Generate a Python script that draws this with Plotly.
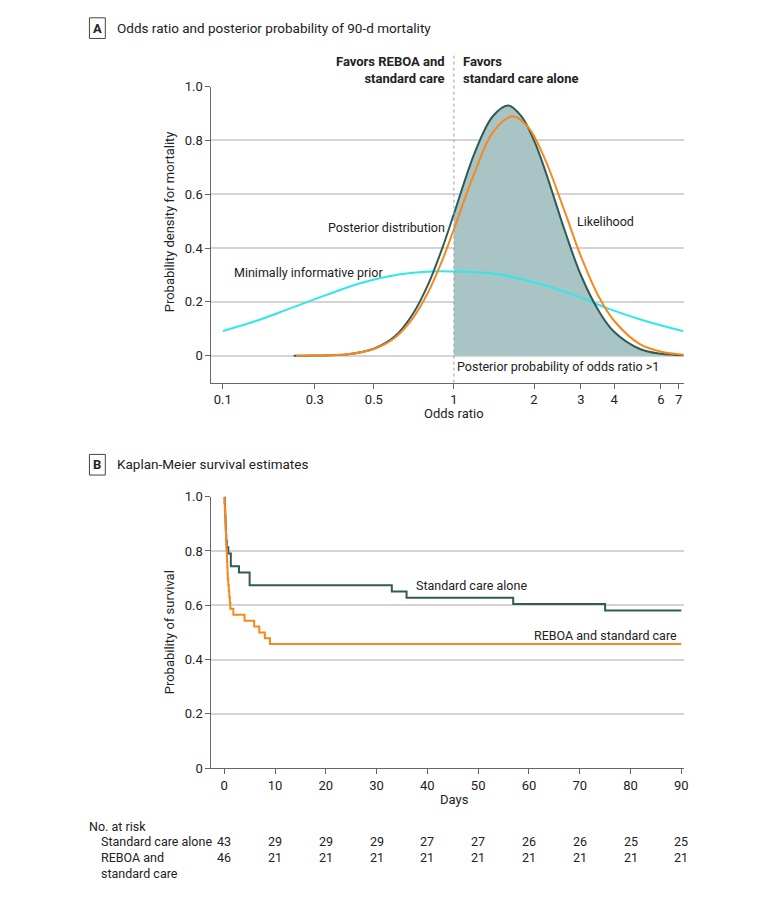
import math
import plotly.graph_objects as go

# ---- panel A: densities (odds ratio, density) ----
prior_or = [0.1353, 0.18, 0.244, 0.332, 0.451, 0.612, 0.832, 1.0, 1.318, 1.536, 2.088, 2.837, 3.85, 5.24, 7.3]
prior_dens = [0.092, 0.129, 0.177, 0.226, 0.271, 0.301, 0.313, 0.313, 0.308, 0.299, 0.268, 0.225, 0.173, 0.129, 0.091]

post_or = [0.25, 0.3, 0.4, 0.5, 0.6, 0.7, 0.8, 0.9, 1.0, 1.2, 1.4, 1.6, 1.8, 2.0, 2.2, 2.6, 3.0, 3.5, 4.0, 5.0, 6.0, 7.3]
post_dens = [0.0, 0.0005, 0.0055, 0.026, 0.072, 0.154, 0.265, 0.394, 0.527, 0.757, 0.89, 0.93, 0.888, 0.80, 0.69, 0.47, 0.30, 0.167, 0.089, 0.025, 0.007, 0.002]

lik_or = [0.255, 0.3, 0.4, 0.5, 0.6, 0.7, 0.8, 0.9, 1.0, 1.2, 1.4, 1.66, 1.9, 2.2, 2.6, 3.0, 3.5, 4.0, 5.0, 6.0, 7.3]
lik_dens = [0.0, 0.0006, 0.0057, 0.025, 0.067, 0.139, 0.236, 0.35, 0.47, 0.684, 0.83, 0.89, 0.85, 0.73, 0.54, 0.37, 0.22, 0.13, 0.043, 0.015, 0.004]

or_tick_pos = [0.1353, 0.3, 0.5, 1, 2, 3, 4, 6, 7]
or_tick_text = ["0.1", "0.3", "0.5", "1", "2", "3", "4", "6", "7"]

# ---- panel B: Kaplan-Meier steps (days, survival) ----
sc_days = [0, 0.1, 0.15, 0.2, 0.25, 0.3, 0.35, 0.4, 0.5, 0.8, 1.3, 2.9, 5.0, 33.0, 35.9, 56.9, 75.0, 90]
sc_surv = [1.0, 0.977, 0.953, 0.930, 0.907, 0.884, 0.860, 0.837, 0.814, 0.791, 0.744, 0.721, 0.674, 0.651, 0.628, 0.605, 0.581, 0.581]

reboa_days = [0, 0.05, 0.1, 0.15, 0.2, 0.25, 0.3, 0.35, 0.4, 0.45, 0.5, 0.55, 0.6, 0.65, 0.7, 0.8, 0.9, 1.0, 1.1, 1.2,
              1.8, 4.0, 5.9, 6.9, 8.0, 9.0, 90]
reboa_surv = [1.0, 0.978, 0.957, 0.935, 0.913, 0.891, 0.870, 0.848, 0.826, 0.804, 0.783, 0.761, 0.739, 0.717, 0.696,
              0.674, 0.652, 0.630, 0.609, 0.587, 0.565, 0.543, 0.522, 0.500, 0.478, 0.457, 0.457]

risk_days = [0, 10, 20, 30, 40, 50, 60, 70, 80, 90]
risk_sc = [43, 29, 29, 29, 27, 27, 26, 26, 25, 25]
risk_reboa = [46, 21, 21, 21, 21, 21, 21, 21, 21, 21]

DARK = "#2f5b59"
ORANGE = "#f7881f"
CYAN = "#2ee8ea"
FILL = "#a9c4c4"
AXIS = "#666666"
GRID = "#d4d4d4"
TXT = "#222222"
FONT = "Roboto, Arial, sans-serif"
LBL = 12.5

W, H = 780, 899


def px(x):
    return x / W


def py(y):
    return 1 - y / H


fig = go.Figure()

# posterior area for OR > 1
fill_x = [o for o in post_or if o >= 1]
fill_y = [d for o, d in zip(post_or, post_dens) if o >= 1]
fig.add_trace(go.Scatter(x=fill_x, y=fill_y, mode="lines", fill="tozeroy", fillcolor=FILL,
                         line=dict(width=0, shape="spline"), hoverinfo="skip", xaxis="x", yaxis="y"))
fig.add_trace(go.Scatter(x=prior_or, y=prior_dens, mode="lines", name="Prior",
                         line=dict(color=CYAN, width=2, shape="spline"), xaxis="x", yaxis="y"))
fig.add_trace(go.Scatter(x=post_or, y=post_dens, mode="lines", name="Posterior",
                         line=dict(color=DARK, width=2, shape="spline"), xaxis="x", yaxis="y"))
fig.add_trace(go.Scatter(x=lik_or, y=lik_dens, mode="lines", name="Likelihood",
                         line=dict(color=ORANGE, width=2, shape="spline"), xaxis="x", yaxis="y"))

fig.add_trace(go.Scatter(x=sc_days, y=sc_surv, mode="lines", name="Standard care alone",
                         line=dict(color=DARK, width=2, shape="hv"), xaxis="x2", yaxis="y2"))
fig.add_trace(go.Scatter(x=reboa_days, y=reboa_surv, mode="lines", name="REBOA and standard care",
                         line=dict(color=ORANGE, width=2, shape="hv"), xaxis="x2", yaxis="y2"))

xdom = [px(212.7), px(688)]
ax_common = dict(showline=True, linecolor=AXIS, linewidth=1, ticks="outside", tickcolor=AXIS,
                 ticklen=5, tickfont=dict(size=13, color=TXT), zeroline=False)
y_ticks = dict(tickvals=[0, 0.2, 0.4, 0.6, 0.8, 1.0], ticktext=["0", "0.2", "0.4", "0.6", "0.8", "1.0"],
               showgrid=True, gridcolor=GRID, gridwidth=1.5)

fig.update_layout(
    width=W, height=H,
    margin=dict(l=0, r=0, t=0, b=0),
    paper_bgcolor="white", plot_bgcolor="white",
    showlegend=False,
    font=dict(family=FONT, size=13, color=TXT),
    xaxis=dict(domain=xdom, anchor="y", type="log",
               range=[math.log10(0.1225), math.log10(7.3)],
               tickvals=or_tick_pos, ticktext=or_tick_text, showgrid=False, **ax_common),
    yaxis=dict(domain=[py(382), py(81)], anchor="x", range=[-0.1, 1.0], **y_ticks, **ax_common),
    xaxis2=dict(domain=xdom, anchor="y2", range=[-2.54, 90.45],
                tickvals=risk_days, showgrid=False, **ax_common),
    yaxis2=dict(domain=[py(774), py(498)], anchor="x2", range=[0, 1.0], **y_ticks, **ax_common),
)

shapes = [
    dict(type="line", xref="x", yref="paper", x0=1, x1=1, y0=py(382), y1=py(47),
         line=dict(color="#a0a0a0", width=1, dash="dot")),
    dict(type="rect", xref="paper", yref="paper", x0=px(90), x1=px(106), y0=py(11), y1=py(32),
         line=dict(color="#444444", width=1)),
    dict(type="rect", xref="paper", yref="paper", x0=px(90), x1=px(106), y0=py(455), y1=py(476),
         line=dict(color="#444444", width=1)),
]
fig.update_layout(shapes=shapes)

ann = []


def note(text, x, y, xanchor="left", yanchor="middle", size=LBL, xref="paper", yref="paper", **kw):
    ann.append(dict(text=text, x=x, y=y, xref=xref, yref=yref, xanchor=xanchor, yanchor=yanchor,
                    showarrow=False, font=dict(size=size, color=TXT, family=FONT), **kw))


# panel titles
note("<b>A</b>", px(98), py(21.5), xanchor="center", size=13)
note("Odds ratio and posterior probability of 90-d mortality", px(116), py(21), size=13.5)
note("<b>B</b>", px(98), py(465.5), xanchor="center", size=13)
note("Kaplan-Meier survival estimates", px(116), py(465), size=13.5)

# panel A texts
note("<b>Favors REBOA and<br>standard care</b>", 0, py(46), xanchor="right", yanchor="top",
     xref="x", align="right", xshift=-7, size=13)
note("<b>Favors<br>standard care alone</b>", 0, py(46), xanchor="left", yanchor="top",
     xref="x", align="left", xshift=7, size=13)
note("Posterior distribution", math.log10(0.94), 0.475, xanchor="right", xref="x", yref="y")
note("Likelihood", math.log10(2.85), 0.497, xref="x", yref="y")
note("Minimally informative prior", math.log10(0.147), 0.31, xref="x", yref="y")
note("Posterior probability of odds ratio >1", math.log10(1.01), -0.04, xref="x", yref="y")
note("Odds ratio", px(457), py(413), xanchor="center", size=13)
note("Probability density for mortality", px(170), py(218), xanchor="center", textangle=-90, size=13)

# panel B texts
note("Standard care alone", 37.4, 0.673, xref="x2", yref="y2")
note("REBOA and standard care", 89.5, 0.49, xanchor="right", xref="x2", yref="y2")
note("Days", px(457), py(806), xanchor="center", size=13)
note("Probability of survival", px(170), py(636), xanchor="center", textangle=-90, size=13)

# risk table
note("No. at risk", px(88), py(833))
note("Standard care alone", px(100), py(849))
note("REBOA and", px(100), py(865))
note("standard care", px(100), py(881))
for d, a, b in zip(risk_days, risk_sc, risk_reboa):
    note(str(a), d, py(849), xanchor="center", xref="x2")
    note(str(b), d, py(865), xanchor="center", xref="x2")

fig.update_layout(annotations=ann)

fig.write_html("out.html", config={"displayModeBar": False},
               post_script="document.body.style.margin='0';")
